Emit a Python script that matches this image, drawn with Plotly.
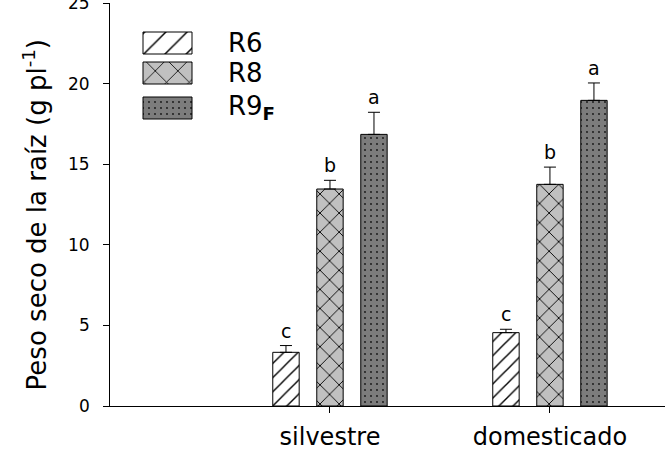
import plotly.graph_objects as go

# ---- data ----
categories = ["silvestre", "domesticado"]
group_pos = [1, 2]
series_names = ["R6", "R8", "R9<sub><b>F</b></sub>"]
r6 = [3.33, 4.55]
r6_err = [0.42, 0.21]
r8 = [13.46, 13.75]
r8_err = [0.54, 1.07]
r9 = [16.85, 18.96]
r9_err = [1.37, 1.08]
r6_letters = ["c", "c"]
r8_letters = ["b", "b"]
r9_letters = ["a", "a"]
y_ticks = [0, 5, 10, 15, 20, 25]

FONT = "DejaVu Sans"
BAR_W = 0.12
centers = [-0.2, 0.0, 0.2]

styles = [
    dict(shape="/", bgcolor="white", fgcolor="black", size=10, solidity=0.14),
    dict(shape="x", bgcolor="#c0c0c0", fgcolor="black", size=13.5, solidity=0.13),
    dict(shape=".", bgcolor="#7c7c7c", fgcolor="#111111", size=6, solidity=0.07),
]
values = [r6, r8, r9]
errors = [r6_err, r8_err, r9_err]
letters = [r6_letters, r8_letters, r9_letters]

fig = go.Figure()
annotations = []
for k in range(3):
    fig.add_trace(go.Bar(
        x=group_pos, y=values[k],
        width=BAR_W, offset=centers[k] - BAR_W / 2,
        marker=dict(pattern=dict(fillmode="replace", **styles[k]),
                    line=dict(color="black", width=1)),
        error_y=dict(type="data", symmetric=False, array=errors[k],
                     arrayminus=[0] * len(values[k]),
                     color="black", thickness=1, width=6),
        showlegend=False,
    ))
    for i in range(len(group_pos)):
        annotations.append(dict(
            x=group_pos[i] + centers[k], y=values[k][i] + errors[k][i],
            xref="x", yref="y", text=letters[k][i], showarrow=False,
            yanchor="bottom", yshift=2,
            font=dict(family=FONT, size=19, color="black")))

# y tick labels placed at the axis' tick values
for v in y_ticks:
    annotations.append(dict(
        x=0, y=v, xref="paper", yref="y", text=str(v), showarrow=False,
        xanchor="right", yanchor="middle", xshift=-18,
        font=dict(family=FONT, size=17, color="black")))

# ---- legend (drawn on pixel-unit overlay axes) ----
leg_y = [43, 73, 108]
leg_x0 = 143
leg_w = 49
leg_h = 22
leg_text_x = 226
leg_styles = [
    dict(shape="/", bgcolor="white", fgcolor="black", size=15, solidity=0.1),
    dict(shape="x", bgcolor="#c0c0c0", fgcolor="black", size=16, solidity=0.1),
    dict(shape=".", bgcolor="#7c7c7c", fgcolor="#111111", size=6, solidity=0.07),
]
for k in range(3):
    fig.add_trace(go.Bar(
        y=[leg_y[k]], x=[leg_w], base=[leg_x0], orientation="h", width=leg_h,
        xaxis="x2", yaxis="y2",
        marker=dict(pattern=dict(fillmode="replace", **leg_styles[k]),
                    line=dict(color="black", width=1)),
        showlegend=False, hoverinfo="skip",
    ))
    annotations.append(dict(
        x=leg_text_x, y=leg_y[k] - (1 if k == 2 else 0), xref="x2", yref="y2",
        text=series_names[k], showarrow=False, xanchor="left", yanchor="middle",
        font=dict(family=FONT, size=26, color="black")))

# y-axis title
annotations.append(dict(
    x=0, y=0.473, xref="paper", yref="paper", xshift=-75,
    text="Peso seco de la raíz (g pl<sup>-1</sup>)", textangle=-90,
    showarrow=False, xanchor="center", yanchor="middle",
    font=dict(family=FONT, size=26, color="black")))

fig.update_layout(
    width=665, height=452,
    margin=dict(l=110, r=0, t=3, b=46, autoexpand=False),
    paper_bgcolor="white", plot_bgcolor="white",
    barmode="overlay",
    annotations=annotations,
    xaxis=dict(range=[0, 2.523], tickvals=group_pos, ticktext=categories,
               ticks="outside", ticklen=6, tickcolor="black", tickwidth=1,
               showline=True, linecolor="black", linewidth=1,
               showgrid=False, zeroline=False, ticklabelstandoff=3,
               automargin=False,
               tickfont=dict(family=FONT, size=24, color="black")),
    yaxis=dict(range=[0, 25], tickvals=y_ticks, showticklabels=False,
               ticks="outside", ticklen=6, tickcolor="black", tickwidth=1,
               showline=True, linecolor="black", linewidth=1,
               showgrid=False, zeroline=False,
               automargin=False),
    xaxis2=dict(overlaying="x", range=[110, 665], visible=False),
    yaxis2=dict(overlaying="y", range=[406, 3], visible=False),
)

fig.write_html("out.html", config={"displayModeBar": False},
               post_script="document.body.style.margin='0';document.body.style.overflow='hidden';")
